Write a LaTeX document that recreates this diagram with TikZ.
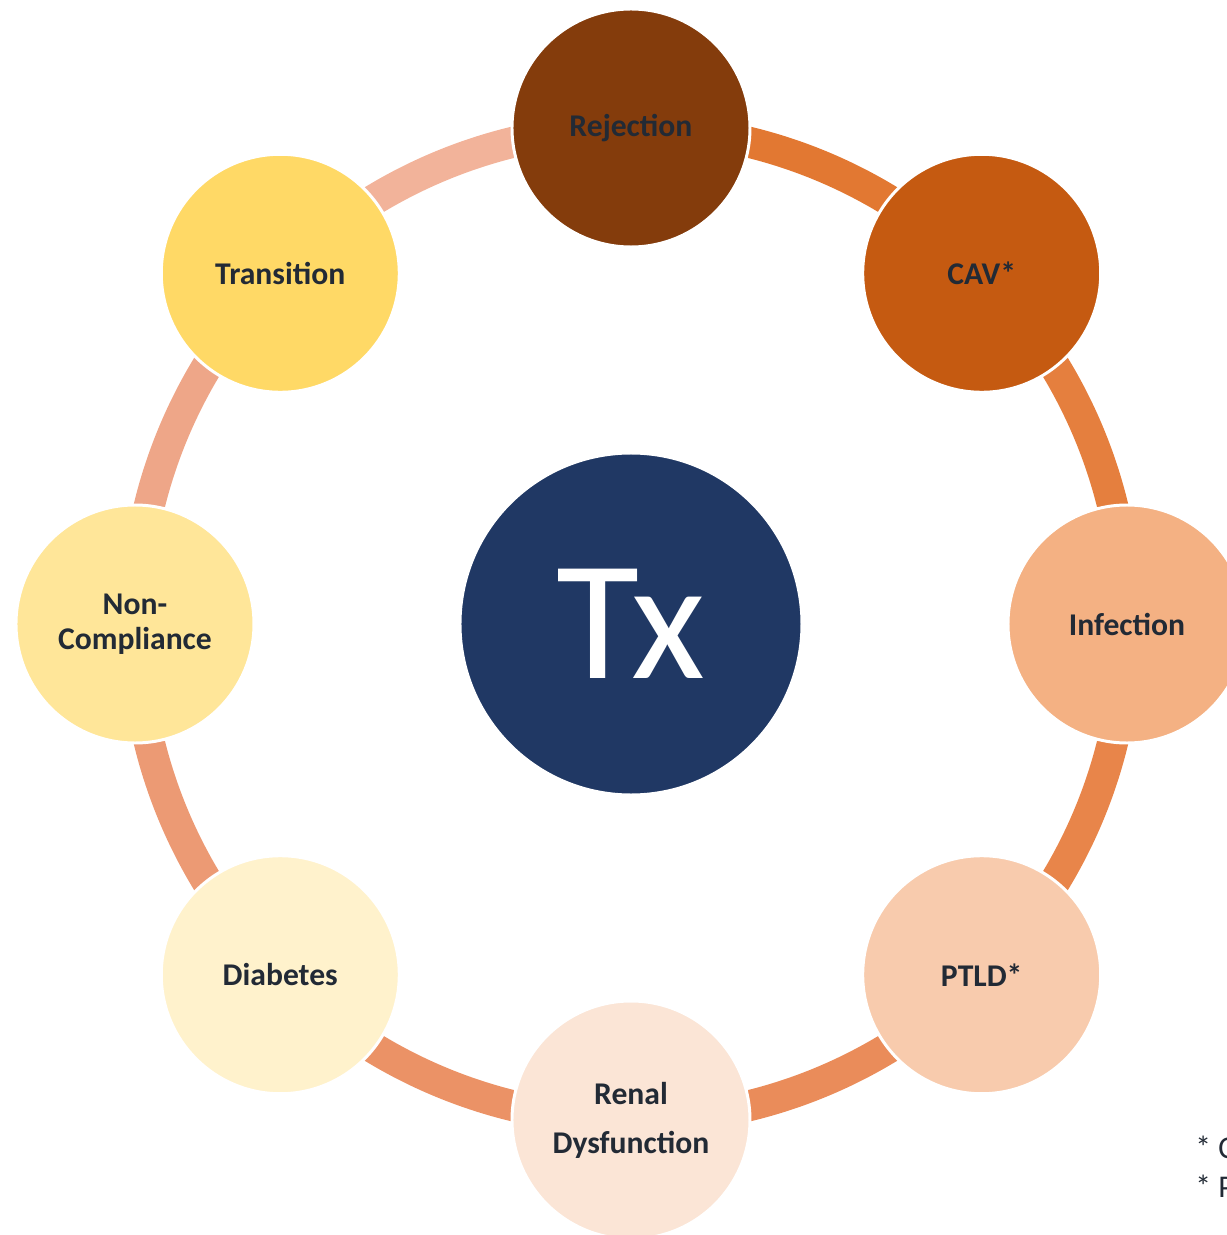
\documentclass[tikz,border=0pt]{standalone}
\usepackage{fontspec}
\setmainfont{Carlito}
\usetikzlibrary{positioning}

\definecolor{rejbrown}{HTML}{843C0C}
\definecolor{cavorange}{HTML}{C55A11}
\definecolor{infpeach}{HTML}{F4B183}
\definecolor{ptldpeach}{HTML}{F8CBAD}
\definecolor{renalpeach}{HTML}{FBE5D6}
\definecolor{diabcream}{HTML}{FFF2CC}
\definecolor{noncyellow}{HTML}{FFE699}
\definecolor{transyellow}{HTML}{FFD966}
\definecolor{hubblue}{HTML}{203864}
\definecolor{darktext}{HTML}{222A35}
\definecolor{arcA}{HTML}{E27832}
\definecolor{arcB}{HTML}{E57F3E}
\definecolor{arcC}{HTML}{E8854A}
\definecolor{arcD}{HTML}{EA8C5A}
\definecolor{arcE}{HTML}{EB9266}
\definecolor{arcF}{HTML}{EC9A74}
\definecolor{arcG}{HTML}{EEA688}
\definecolor{arcH}{HTML}{F2B39A}

\tikzset{
  basic/.style  = {circle, draw=white, line width=1.7pt, inner sep=0pt,
                   minimum size=4.76cm, align=center, text=darktext,
                   font=\bfseries\fontsize{18}{20}\selectfont},
  hub/.style    = {circle, draw=white, line width=1.7pt, fill=hubblue,
                   inner sep=0pt, minimum size=6.84cm, text=white,
                   font=\fontsize{97}{100}\selectfont},
  ring/.style   = {line width=0.62cm},
  note/.style   = {inner sep=0pt, text=darktext, font=\fontsize{18}{20}\selectfont}
}

\begin{document}
\begin{tikzpicture}
	\useasboundingbox (-12.62,-12.22) rectangle (11.92,12.48);
	
	% centre of the cycle
	\node[hub] (tx) at (0,0) {Tx};
	
	% anchor points on the ring, one for each complication
	\foreach \name/\ang in {rej/90, cav/45, inf/0, ptld/-45, renal/-90,
	                        diab/-135, nonc/180, trans/135}
	  \coordinate (p-\name) at (\ang:9.92);
	
	% ring segments from each complication to the next one
	\foreach \from/\ang/\col in {rej/90/arcA, cav/45/arcB, inf/0/arcC,
	                             ptld/-45/arcD, renal/-90/arcE, diab/-135/arcF,
	                             nonc/-180/arcG, trans/-225/arcH}
	  \draw[ring, \col] (p-\from) arc[start angle=\ang, end angle=\ang-45,
	                                  radius=9.92];
	
	% the complications round the ring
	\node[basic, fill=rejbrown]    (rej)   at (p-rej)   {Rejection};
	\node[basic, fill=cavorange]   (cav)   at (p-cav)   {CAV*};
	\node[basic, fill=infpeach]    (inf)   at (p-inf)   {Infection};
	\node[basic, fill=ptldpeach]   (ptld)  at (p-ptld)  {PTLD*};
	\node[basic, fill=renalpeach]  (renal) at (p-renal) {Renal\\[8pt]Dysfunction};
	\node[basic, fill=diabcream]   (diab)  at (p-diab)  {Diabetes};
	\node[basic, fill=noncyellow]  (nonc)  at (p-nonc)  {Non-\\Compliance};
	\node[basic, fill=transyellow] (trans) at (p-trans) {Transition};
	
	% footnotes, cut off at the right edge
	\node[note, anchor=base west] (fn1) at (11.28,-10.68) {* C};
	\node[note, anchor=base west] (fn2) at (11.28,-11.46) {* P};
	
\end{tikzpicture}
\end{document}
